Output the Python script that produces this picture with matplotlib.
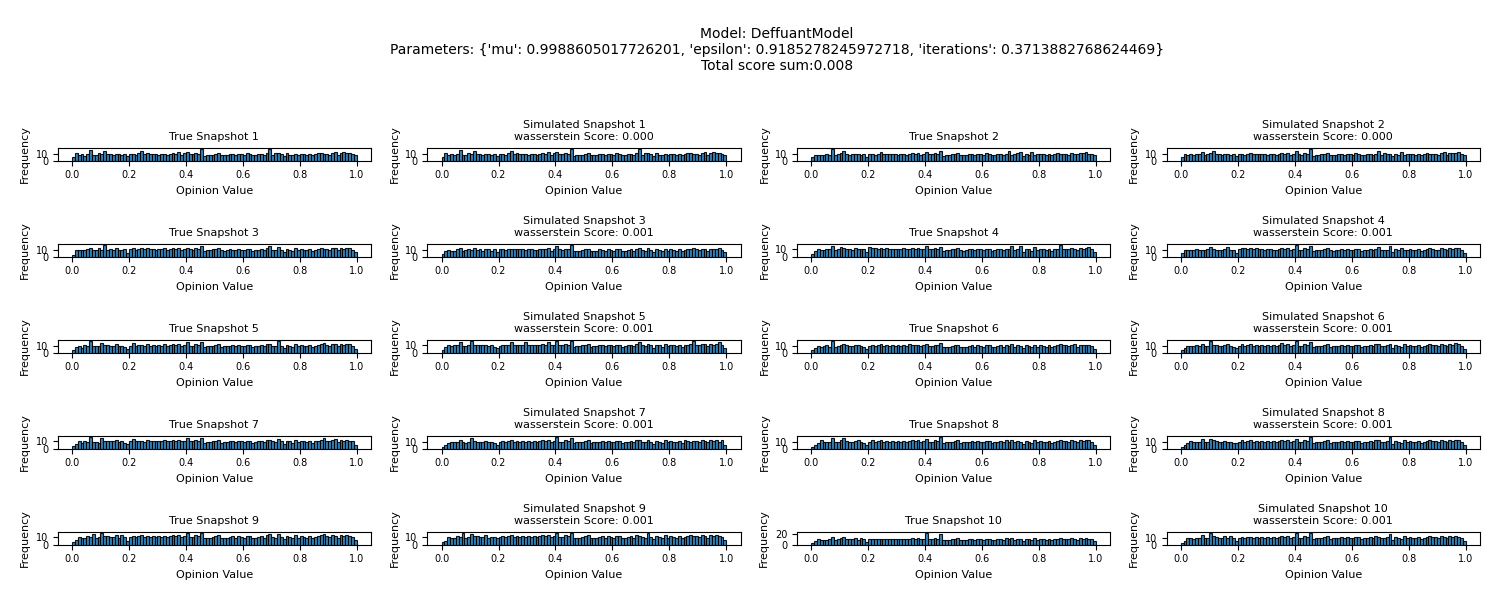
import matplotlib
matplotlib.use("Agg")
import matplotlib.pyplot as plt
import numpy as np

# ---------------- data ----------------
bin_edges = np.linspace(0.0, 1.0, 101)

true_1 = [5,12,9,10,7,11,16,8,9,12, 11,15,11,10,9,10,10,9,10,7, 10,11,9,12,15,10,12,10,11,10,
          9,11,10,9,11,12,11,14,9,12, 13,10,10,12,11,18,7,8,9,9, 11,12,8,9,9,10,11,8,11,10,
          9,12,11,8,8,10,11,9,12,18, 9,12,12,10,7,12,9,8,11,8, 11,10,9,10,9,10,12,12,11,11,
          9,12,14,8,12,13,12,12,10,8]
sim_1 = [5,12,9,10,8,11,16,8,9,12, 11,15,11,10,9,10,10,9,10,7, 10,11,9,12,15,10,12,10,11,10,
         9,11,10,9,11,12,11,14,9,12, 13,10,10,12,11,18,7,8,9,9, 11,12,8,9,9,10,11,8,11,10,
         9,12,11,8,8,10,11,9,12,18, 9,12,12,10,7,12,9,8,11,8, 11,10,9,10,9,10,12,12,11,11,
         9,12,14,8,12,13,12,12,10,8]
true_2 = [5,9,8,9,8,11,9,18,9,10, 12,15,10,9,10,11,10,9,10,6, 10,11,9,11,13,10,11,10,11,10,
          9,11,10,9,11,12,11,12,9,10, 14,10,10,12,11,15,7,9,9,10, 11,12,8,9,9,10,11,8,11,10,
          9,12,11,8,8,10,11,9,10,15, 9,11,12,13,7,11,9,13,8,10, 11,10,9,10,9,10,12,11,11,10,
          9,12,11,10,12,12,13,11,10,8]
sim_2 = [5,10,9,10,8,11,10,14,9,10, 12,15,11,10,9,11,10,9,10,7, 10,11,9,11,12,10,11,10,11,10,
         9,11,10,9,11,12,11,12,9,11, 15,10,9,12,11,18,7,9,9,10, 11,12,8,9,9,10,11,8,11,10,
         9,12,11,8,8,10,11,9,11,15, 9,12,11,10,7,11,9,14,8,10, 11,10,9,10,9,10,12,11,11,10,
         9,12,13,9,12,12,12,13,10,8]
true_3 = [3,9,10,10,9,11,13,9,10,12, 10,17,10,11,9,12,10,9,11,6, 11,12,10,11,12,11,12,11,11,10,
          11,11,12,10,11,12,11,12,10,11, 12,11,10,12,11,15,8,9,9,11, 11,12,9,8,9,11,10,9,11,10,
          9,11,11,8,9,10,11,9,12,15, 10,9,14,10,7,11,10,8,12,9, 11,10,9,11,8,10,11,12,11,11,
          10,12,13,9,12,11,12,13,10,7]
sim_3 = [4,9,10,9,8,11,14,9,10,11, 10,14,10,11,9,12,11,9,11,7, 11,12,10,11,12,11,12,11,11,10,
         11,11,10,10,11,12,11,14,9,11, 16,11,10,12,11,18,8,9,9,10, 11,12,9,8,9,11,10,9,11,10,
         9,11,11,8,9,10,11,9,12,14, 10,9,14,10,7,11,10,8,12,9, 11,10,9,11,8,10,11,12,13,11,
         10,12,11,9,12,11,12,13,10,7]
true_4 = [4,8,10,9,9,11,10,14,9,10, 13,12,11,10,9,12,11,10,10,6, 13,12,12,11,12,11,12,11,11,10,
          11,11,12,10,11,12,11,12,10,11, 14,10,10,12,11,13,8,9,9,10, 11,12,9,8,9,10,11,9,11,10,
          9,11,11,8,9,10,11,9,11,10, 14,9,10,15,7,11,10,8,13,9, 11,10,9,11,8,10,11,16,11,10,
          10,12,11,9,12,11,12,13,10,6]
sim_4 = [5,10,10,10,9,11,10,10,9,11, 14,11,10,10,9,11,14,9,10,6, 11,12,12,11,12,11,12,11,11,10,
         11,11,10,10,11,12,11,12,10,11, 17,10,10,12,11,16,8,9,9,10, 11,12,9,8,9,10,11,9,11,10,
         9,11,11,8,9,10,11,9,11,14, 10,9,10,15,7,11,10,13,10,9, 11,10,9,11,8,10,11,13,11,10,
         10,12,11,9,12,11,12,13,10,6]
true_5 = [4,8,10,7,11,10,17,9,9,10, 14,11,11,10,10,12,9,10,8,6, 10,14,10,11,11,9,12,10,11,10,
          11,10,12,10,11,12,11,12,10,11, 15,10,10,12,11,15,8,9,9,10, 11,12,8,9,9,10,11,9,11,10,
          9,11,11,8,9,10,11,9,12,12, 10,9,17,10,7,11,10,8,12,9, 11,10,9,11,8,10,11,12,14,11,
          10,12,12,9,12,11,12,12,10,6]
sim_5 = [4,8,10,9,10,11,14,9,9,10, 16,11,10,10,10,11,9,10,8,6, 9,11,10,11,14,10,11,10,11,14,
         11,10,11,10,11,12,11,14,10,11, 16,10,10,12,11,16,8,9,9,10, 11,12,8,9,9,10,11,9,11,10,
         9,11,11,8,9,10,11,9,12,14, 10,9,12,10,7,11,10,8,12,9, 11,10,9,11,8,10,11,12,16,11,
         10,12,12,9,12,11,12,14,10,6]
true_6 = [4,7,10,9,10,11,9,18,9,10, 12,14,11,10,10,11,12,10,8,6, 10,12,10,11,13,10,11,10,11,10,
          11,10,11,10,14,11,11,12,10,11, 14,10,10,12,11,15,8,9,9,10, 11,12,8,9,9,10,11,9,11,10,
          9,11,11,8,9,10,11,9,12,10, 13,9,11,10,7,11,10,8,12,9, 11,10,9,11,8,10,11,13,11,11,
          10,12,13,9,12,11,12,12,10,6]
sim_6 = [4,7,10,9,9,11,10,13,9,10, 17,11,11,10,10,11,12,10,8,7, 10,12,10,11,12,10,11,10,11,10,
         11,10,11,10,11,14,11,12,10,11, 17,10,10,12,11,16,8,9,9,10, 11,12,8,9,9,10,11,9,11,10,
         9,11,11,8,9,10,11,9,12,12, 10,9,11,13,7,11,10,8,12,9, 11,10,9,11,8,10,11,13,11,11,
         10,12,11,9,12,11,14,12,10,6]
true_7 = [4,6,10,8,10,9,16,9,9,8, 15,11,10,10,10,12,9,10,8,6, 10,13,10,11,11,9,12,10,11,10,
          11,10,12,10,11,12,11,12,10,11, 14,10,10,12,11,14,8,9,9,10, 11,12,8,9,9,10,11,9,11,10,
          9,11,11,8,9,10,11,9,12,12, 10,9,13,10,7,11,10,8,12,9, 11,10,9,11,8,10,11,12,14,11,
          10,12,13,9,12,11,12,11,10,5]
sim_7 = [3,5,8,10,9,10,13,9,8,10, 16,11,10,10,10,11,9,10,8,6, 9,11,10,11,12,10,11,10,11,10,
         11,10,11,10,11,12,11,12,10,11, 17,10,10,12,11,16,8,9,9,10, 11,12,8,9,9,10,11,9,11,10,
         9,11,11,8,9,10,11,9,12,13, 10,9,12,10,7,11,10,8,12,9, 11,10,9,11,8,12,11,10,11,11,
         10,12,11,9,12,11,12,10,13,6]
true_8 = [3,5,8,12,9,10,9,16,9,10, 12,16,11,10,10,11,12,10,8,6, 10,12,10,11,13,10,11,10,11,10,
          11,10,11,10,11,12,11,12,10,11, 14,10,10,12,11,17,8,9,9,10, 11,12,8,9,9,10,11,9,11,10,
          9,11,11,8,9,10,11,9,12,10, 13,9,11,10,7,11,10,8,12,9, 11,10,9,11,8,10,11,12,11,11,
          10,12,11,9,12,11,12,12,10,6]
sim_8 = [3,5,8,11,9,10,9,14,9,10, 14,12,11,10,10,11,10,10,8,8, 10,12,10,11,13,10,11,10,11,10,
         11,10,11,10,11,12,11,12,10,11, 14,10,10,12,11,17,8,9,9,10, 11,12,8,9,9,10,11,9,11,10,
         9,11,11,8,9,10,11,9,12,12, 10,9,11,17,7,11,10,8,12,9, 11,10,9,11,8,10,11,13,11,11,
         10,12,11,9,12,11,13,12,10,5]
true_9 = [3,6,10,9,9,11,10,14,9,10, 15,11,11,10,10,12,9,12,10,5, 10,11,10,11,12,10,11,10,11,10,
          11,10,11,10,11,12,11,12,10,11, 15,10,10,12,11,15,8,9,9,10, 11,12,8,9,9,10,11,9,11,10,
          9,11,11,8,9,10,11,9,12,13, 10,9,13,10,7,11,10,8,12,9, 11,10,9,11,8,10,11,12,13,11,
          10,12,11,9,12,11,12,11,10,6]
sim_9 = [3,5,10,9,9,11,10,15,9,10, 13,11,11,10,10,12,9,10,10,8, 10,11,10,11,12,10,11,10,11,10,
         11,10,11,10,11,12,11,12,10,11, 15,10,10,12,11,15,8,9,9,10, 11,12,8,9,9,10,11,9,11,10,
         9,11,11,8,9,10,11,9,12,11, 10,9,15,10,7,11,10,8,12,9, 11,10,9,11,8,10,11,12,11,11,
         10,12,11,9,12,11,12,11,10,6]
true_10 = [3,6,10,9,8,9,10,15,9,10, 12,15,11,10,10,12,9,12,10,5, 10,11,10,11,11,10,11,10,11,10,
           11,10,11,10,11,12,11,12,10,11, 22,10,10,12,11,19,8,9,9,10, 11,12,8,9,9,10,11,9,11,10,
           9,11,11,8,9,10,11,9,12,10, 13,9,11,10,7,11,10,8,12,9, 11,10,9,11,8,10,11,13,11,11,
           10,12,11,9,12,11,12,11,10,6]
sim_10 = [3,6,10,9,8,9,10,14,9,10, 17,12,11,10,10,12,9,12,10,6, 10,11,10,11,11,10,11,10,11,10,
          11,10,11,10,11,12,11,12,10,11, 17,10,10,12,11,17,8,9,9,10, 11,12,8,9,9,10,11,9,11,10,
          9,11,11,8,9,10,11,9,12,11, 10,9,11,16,7,11,10,8,12,9, 11,10,9,11,8,10,11,12,11,11,
          10,12,11,9,12,11,12,11,10,6]

true_snapshots = [true_1, true_2, true_3, true_4, true_5,
                  true_6, true_7, true_8, true_9, true_10]
sim_snapshots = [sim_1, sim_2, sim_3, sim_4, sim_5,
                 sim_6, sim_7, sim_8, sim_9, sim_10]
scores = [0.000, 0.000, 0.001, 0.001, 0.001, 0.001, 0.001, 0.001, 0.001, 0.001]

model_name = "DeffuantModel"
params_text = "{'mu': 0.9988605017726201, 'epsilon': 0.9185278245972718, 'iterations': 0.3713882768624469}"
total_score = 0.008

# ---------------- plot ----------------
fig, axes = plt.subplots(5, 4, figsize=(15, 6), dpi=100)
fig.subplots_adjust(left=0.0385, right=0.9865, top=0.7528, bottom=0.0922,
                    wspace=0.18, hspace=6.74)

fig.suptitle(f"Model: {model_name}\nParameters: {params_text}\n"
             f"Total score sum:{total_score:.3f}",
             fontsize=10, x=0.518, y=0.955)

widths = np.diff(bin_edges)
for k in range(10):
    row, cpair = divmod(k, 2)
    ax_t = axes[row, cpair * 2]
    ax_s = axes[row, cpair * 2 + 1]
    for ax, counts, title in (
        (ax_t, true_snapshots[k], f"True Snapshot {k + 1}"),
        (ax_s, sim_snapshots[k], f"Simulated Snapshot {k + 1}\nwasserstein Score: {scores[k]:.3f}"),
    ):
        ax.bar(bin_edges[:-1], counts, width=widths, align="edge",
               color="C0", alpha=0.9, edgecolor="black", linewidth=0.8)
        ax.set_title(title, fontsize=8)
        ax.set_xlabel("Opinion Value", fontsize=8)
        ax.set_ylabel("Frequency", fontsize=8)
        ax.tick_params(axis="both", labelsize=7)

fig.savefig("out.png", dpi=100)
